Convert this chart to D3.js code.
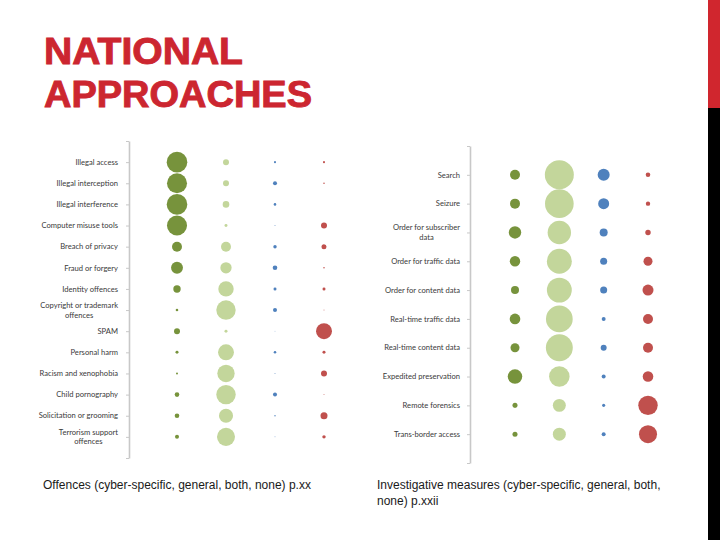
<!DOCTYPE html>
<html>
<head>
<meta charset="utf-8">
<script src="https://cdn.jsdelivr.net/npm/d3@7"></script>
<style>
    body { margin: 0; background: #fff; }
    svg { display: block; }
    .axis path, .axis line { stroke: #c8c8c8; }
    .cat-label { font-family: Lato, "Open Sans", sans-serif; font-size: 7.6px; fill: #3a3a3a; }
    .caption { font-family: "Liberation Sans", Arial, sans-serif; font-size: 12px; fill: #1a1a1a; }
</style>
</head>
<body>
<div id="slide"></div>
<script>
const series = ['cyber-specific', 'general', 'both', 'none']
const seriesColors = ['#77933c', '#c3d69b', '#4f81bd', '#c0504d']

// Offences (share of countries)
const offenceCategories = [
    'Illegal access', 'Illegal interception', 'Illegal interference', 'Computer misuse tools',
    'Breach of privacy', 'Fraud or forgery', 'Identity offences', 'Copyright or trademark\noffences',
    'SPAM', 'Personal harm', 'Racism and xenophobia', 'Child pornography',
    'Solicitation or grooming', 'Terrorism support\noffences',
]
const offenceCyber   = [90, 85, 90, 85, 21, 30, 11.6, 1.4, 7.6, 1.9, 0.8, 4.5, 4.5, 3.4]
const offenceGeneral = [7.6, 7.6, 9.2, 1.9, 21, 27, 50, 80, 1.9, 54, 64, 80, 42, 69]
const offenceBoth    = [0.9, 3.4, 1.4, 0.2, 2.5, 4.5, 1.9, 3.4, 0.1, 1.4, 0.2, 3.4, 0.4, 0.2]
const offenceNone    = [0.9, 0.5, 0, 7.6, 5.3, 0.5, 1.9, 0.2, 54, 1.9, 7.6, 0.2, 10.4, 2.5]

// Investigative measures
const measureCategories = [
    'Search', 'Seizure', 'Order for subscriber\ndata', 'Order for traffic data',
    'Order for content data', 'Real-time traffic data', 'Real-time content data',
    'Expedited preservation', 'Remote forensics', 'Trans-border access',
]
const measureCyber   = [9.5, 9.5, 14.6, 10.3, 6.1, 10.7, 7.7, 20, 2.4, 2.4]
const measureGeneral = [80, 78, 52, 59, 59, 68, 69, 40, 16, 16]
const measureBoth    = [13.7, 11.5, 6.1, 4.7, 4.7, 1.5, 3.4, 1.5, 0.9, 1.5]
const measureNone    = [2.0, 1.8, 2.8, 7.7, 11.5, 9.5, 9.5, 10.7, 36, 31]

const titleLines = ['NATIONAL', 'APPROACHES']
const captions = [
    ['Offences (cyber-specific, general, both, none) p.xx'],
    ['Investigative measures (cyber-specific, general, both,', 'none) p.xxii'],
]

const W = 720, H = 540
const svg = d3.select('#slide').append('svg')
    .attr('width', W)
    .attr('height', H)

// right edge decoration
svg.append('rect').attr('x', 708).attr('y', 0).attr('width', 12).attr('height', 108).attr('fill', '#d0262e')
svg.append('rect').attr('x', 708).attr('y', 108).attr('width', 12).attr('height', H - 108).attr('fill', '#000')

// title
svg.selectAll('.title')
    .data(titleLines)
    .enter()
    .append('text')
        .attr('class', 'title')
        .attr('x', 44)
        .attr('y', (d, i) => 64 + i * 43)
        .attr('textLength', (d, i) => i === 0 ? 199 : 268)
        .attr('lengthAdjust', 'spacingAndGlyphs')
        .style('font-family', '"Liberation Sans", Arial, sans-serif')
        .style('font-weight', 'bold')
        .style('font-size', '36px')
        .style('fill', '#cc2630')
        .style('stroke', '#cc2630')
        .style('stroke-width', 0.9)
        .text((d) => d)

const drawBubbles = (opts) => {
    const { categories, values, axisX, labelRight, xRange, yRange, maxV, maxR } = opts
    const n = categories.length
    const g = svg.append('g')

    const yScale = d3.scaleLinear().domain([0, n + 1]).range(yRange)
    const xScale = d3.scalePoint().domain(series).range(xRange)
    const rScale = d3.scaleSqrt().domain([0, maxV]).range([0, maxR])

    const yAxis = d3.axisLeft(yScale)
        .tickValues(d3.range(0, n + 2))
        .tickFormat('')
        .tickSize(3)
        .tickSizeOuter(0)

    g.append('g')
        .attr('class', 'axis')
        .attr('transform', `translate(${axisX},0)`)
        .call(yAxis)
        .select('.domain').attr('stroke-width', 1.6)

    // category labels, multi-line ones centred inside a right-aligned block
    categories.forEach((c, i) => {
        const lines = c.split('\n')
        const yc = yScale(n - i)
        const t = g.append('text').attr('class', 'cat-label')
        const lh = 9.6
        lines.forEach((l, j) => {
            t.append('tspan')
                .attr('x', labelRight)
                .attr('y', yc + 2.7 + (j - (lines.length - 1) / 2) * lh)
                .text(l)
        })
        const widths = []
        t.selectAll('tspan').each(function () { widths.push(this.getComputedTextLength()) })
        const maxW = d3.max(widths)
        t.attr('text-anchor', 'middle')
        t.selectAll('tspan').attr('x', labelRight - maxW / 2)
    })

    const flat = []
    categories.forEach((c, i) => {
        series.forEach((s, k) => flat.push({ cat: i, s, k, v: values[k][i] }))
    })

    g.selectAll()
        .data(flat.filter((d) => d.v > 0))
        .enter()
        .append('circle')
            .attr('cx', (d) => xScale(d.s))
            .attr('cy', (d) => yScale(n - d.cat))
            .attr('r', (d) => rScale(d.v))
            .attr('fill', (d) => seriesColors[d.k])
}

drawBubbles({
    categories: offenceCategories,
    values: [offenceCyber, offenceGeneral, offenceBoth, offenceNone],
    axisX: 129,
    labelRight: 118,
    xRange: [177, 324],
    yRange: [458, 141],
    maxV: 90,
    maxR: 10.3,
})

drawBubbles({
    categories: measureCategories,
    values: [measureCyber, measureGeneral, measureBoth, measureNone],
    axisX: 470,
    labelRight: 460,
    xRange: [515, 648],
    yRange: [463, 146],
    maxV: 80,
    maxR: 14.5,
})

// captions
const capX = [43, 377]
captions.forEach((lines, i) => {
    svg.selectAll(null)
        .data(lines)
        .enter()
        .append('text')
            .attr('class', 'caption')
            .attr('x', capX[i])
            .attr('y', (d, j) => 489 + j * 16)
            .text((d) => d)
})
</script>
</body>
</html>
